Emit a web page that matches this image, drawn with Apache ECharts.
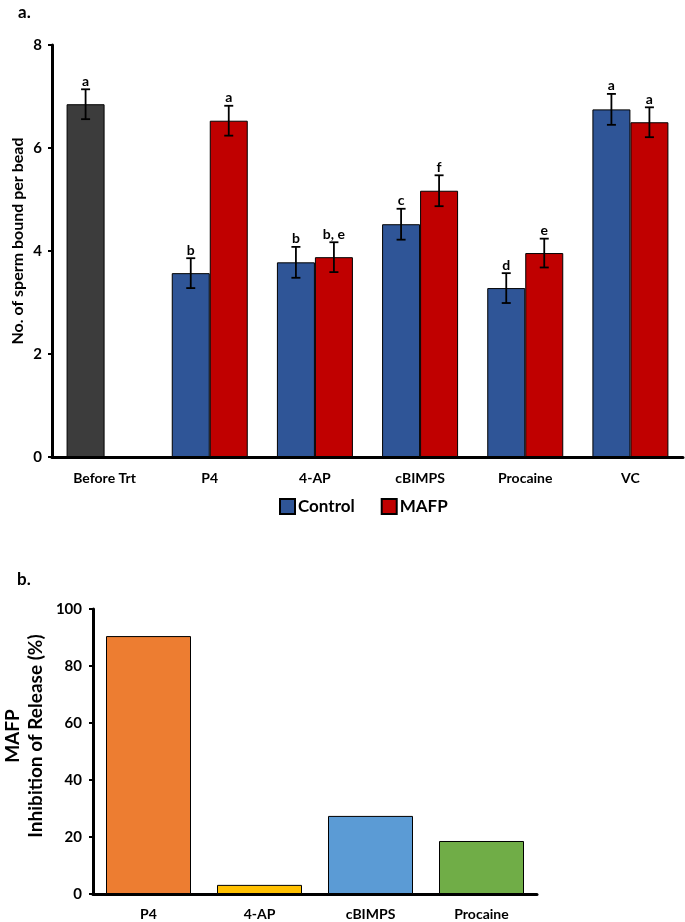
<!DOCTYPE html>
<html>
<head>
<meta charset="utf-8">
<script src="https://cdn.jsdelivr.net/npm/echarts@6/dist/echarts.min.js"></script>
<style>
  html, body { margin: 0; padding: 0; background: #fff; }
  #chart { width: 685px; height: 922px; }
</style>
</head>
<body>
<div id="chart"></div>
<script>
// panel a
const categories = ["Before Trt", "P4", "4-AP", "cBIMPS", "Procaine", "VC"];
const controlValues = [6.85, 3.57, 3.78, 4.52, 3.28, 6.75];
const mafpValues = [null, 6.53, 3.88, 5.17, 3.96, 6.5];
const controlErr = [0.29, 0.29, 0.3, 0.3, 0.29, 0.3];
const mafpErr = [null, 0.29, 0.29, 0.3, 0.28, 0.29];
const controlLetters = ["a", "b", "b", "c", "d", "a"];
const mafpLetters = ["", "a", "b, e", "f", "e", "a"];

// panel b
const inhibCategories = ["P4", "4-AP", "cBIMPS", "Procaine"];
const inhibValues = [90.5, 3.2, 27.4, 18.6];
const inhibColors = ["#ED7D31", "#FFC000", "#5B9BD5", "#70AD47"];

const FONT = "Lato, 'Open Sans', sans-serif";
const BAR_W = 38;

const chart = echarts.init(document.getElementById("chart"));

function errorSeries(name, values, errs, letters, side) {
  return {
    type: "custom",
    name: name + "-err",
    xAxisIndex: 0,
    yAxisIndex: 0,
    z: 10,
    silent: true,
    data: values.map((v, i) => (v == null ? [i, "-", 0] : [i, v, errs[i]])),
    renderItem: function (params, api) {
      const v = api.value(1);
      if (isNaN(v)) return null;
      const e = api.value(2);
      const x = api.coord([api.value(0), v])[0] + side * BAR_W / 2;
      const yTop = api.coord([0, v + e])[1];
      const yBot = api.coord([0, v - e])[1];
      const ls = { stroke: "#000", lineWidth: 1.8 };
      return {
        type: "group",
        children: [
          { type: "line", shape: { x1: x, y1: yTop, x2: x, y2: yBot }, style: ls },
          { type: "line", shape: { x1: x - 4.5, y1: yTop, x2: x + 4.5, y2: yTop }, style: ls },
          { type: "line", shape: { x1: x - 4.5, y1: yBot, x2: x + 4.5, y2: yBot }, style: ls },
          {
            type: "text",
            style: {
              x: x, y: yTop - 1,
              text: letters[params.dataIndex],
              fill: "#000",
              font: "bold 14px " + FONT,
              textAlign: "center",
              textVerticalAlign: "bottom"
            }
          }
        ]
      };
    }
  };
}

const axisLineStyle = { lineStyle: { color: "#000", width: 3 } };
const tickLabel = { color: "#000", fontWeight: "bold", fontFamily: FONT };

chart.setOption({
  animation: false,
  textStyle: { fontFamily: FONT },
  grid: [
    { left: 52, right: 2, top: 45, bottom: 465 },
    { left: 93, right: 148, top: 609, bottom: 28 }
  ],
  legend: {
    data: ["Control", "MAFP"],
    left: 274,
    top: 493,
    icon: "rect",
    itemWidth: 15,
    itemHeight: 15,
    itemGap: 26,
    textStyle: { fontSize: 17, fontWeight: "bold", color: "#000", fontFamily: FONT, padding: [0, 0, 0, -2] }
  },
  xAxis: [
    {
      type: "category",
      gridIndex: 0,
      data: categories,
      axisLine: axisLineStyle,
      axisTick: { alignWithLabel: true, length: 3, lineStyle: { color: "#000", width: 2 } },
      axisLabel: Object.assign({ fontSize: 14, margin: 14 }, tickLabel)
    },
    {
      type: "category",
      gridIndex: 1,
      data: inhibCategories,
      axisLine: axisLineStyle,
      axisTick: { alignWithLabel: true, length: 3, lineStyle: { color: "#000", width: 2 } },
      axisLabel: Object.assign({ fontSize: 14, margin: 13 }, tickLabel)
    }
  ],
  yAxis: [
    {
      type: "value",
      gridIndex: 0,
      min: 0,
      max: 8,
      interval: 2,
      splitLine: { show: false },
      axisLine: { show: true, lineStyle: { color: "#000", width: 3 } },
      axisTick: { show: true, length: 4, lineStyle: { color: "#000", width: 2 } },
      axisLabel: Object.assign({ fontSize: 15, margin: 10 }, tickLabel)
    },
    {
      type: "value",
      gridIndex: 1,
      min: 0,
      max: 100,
      interval: 20,
      splitLine: { show: false },
      axisLine: { show: true, lineStyle: { color: "#000", width: 3 } },
      axisTick: { show: true, length: 4, lineStyle: { color: "#000", width: 2 } },
      axisLabel: Object.assign({ fontSize: 15, margin: 11 }, tickLabel)
    }
  ],
  graphic: [
    { type: "text", left: 18, top: 4, style: { text: "a.", font: "bold 17px " + FONT, fill: "#000" } },
    { type: "text", left: 17, top: 571, style: { text: "b.", font: "bold 17px " + FONT, fill: "#000" } },
    {
      type: "text", x: 18, y: 241, rotation: Math.PI / 2,
      style: { text: "No. of sperm bound per bead", font: "bold 16px " + FONT, fill: "#000", textAlign: "center", textVerticalAlign: "middle" }
    },
    {
      type: "text", x: 13, y: 736, rotation: Math.PI / 2,
      style: { text: "MAFP", font: "bold 19px " + FONT, fill: "#000", textAlign: "center", textVerticalAlign: "middle" }
    },
    {
      type: "text", x: 36, y: 736, rotation: Math.PI / 2,
      style: { text: "Inhibition of Release (%)", font: "bold 19px " + FONT, fill: "#000", textAlign: "center", textVerticalAlign: "middle" }
    }
  ],
  series: [
    {
      name: "Control",
      type: "bar",
      xAxisIndex: 0,
      yAxisIndex: 0,
      barWidth: BAR_W,
      barGap: "0%",
      itemStyle: { color: "#2F5597", borderColor: "#000", borderWidth: 1 },
      data: controlValues.map((v, i) => (i === 0 ? { value: v, itemStyle: { color: "#3C3C3C" } } : v))
    },
    {
      name: "MAFP",
      type: "bar",
      xAxisIndex: 0,
      yAxisIndex: 0,
      barWidth: BAR_W,
      barGap: "0%",
      itemStyle: { color: "#C00000", borderColor: "#000", borderWidth: 1 },
      data: mafpValues.map(v => (v == null ? "-" : v))
    },
    errorSeries("Control", controlValues, controlErr, controlLetters, -1),
    errorSeries("MAFP", mafpValues, mafpErr, mafpLetters, 1),
    {
      name: "Inhibition",
      type: "bar",
      xAxisIndex: 1,
      yAxisIndex: 1,
      barWidth: 85,
      data: inhibValues.map((v, i) => ({ value: v, itemStyle: { color: inhibColors[i], borderColor: "#000", borderWidth: 1 } }))
    }
  ]
});
</script>
</body>
</html>
